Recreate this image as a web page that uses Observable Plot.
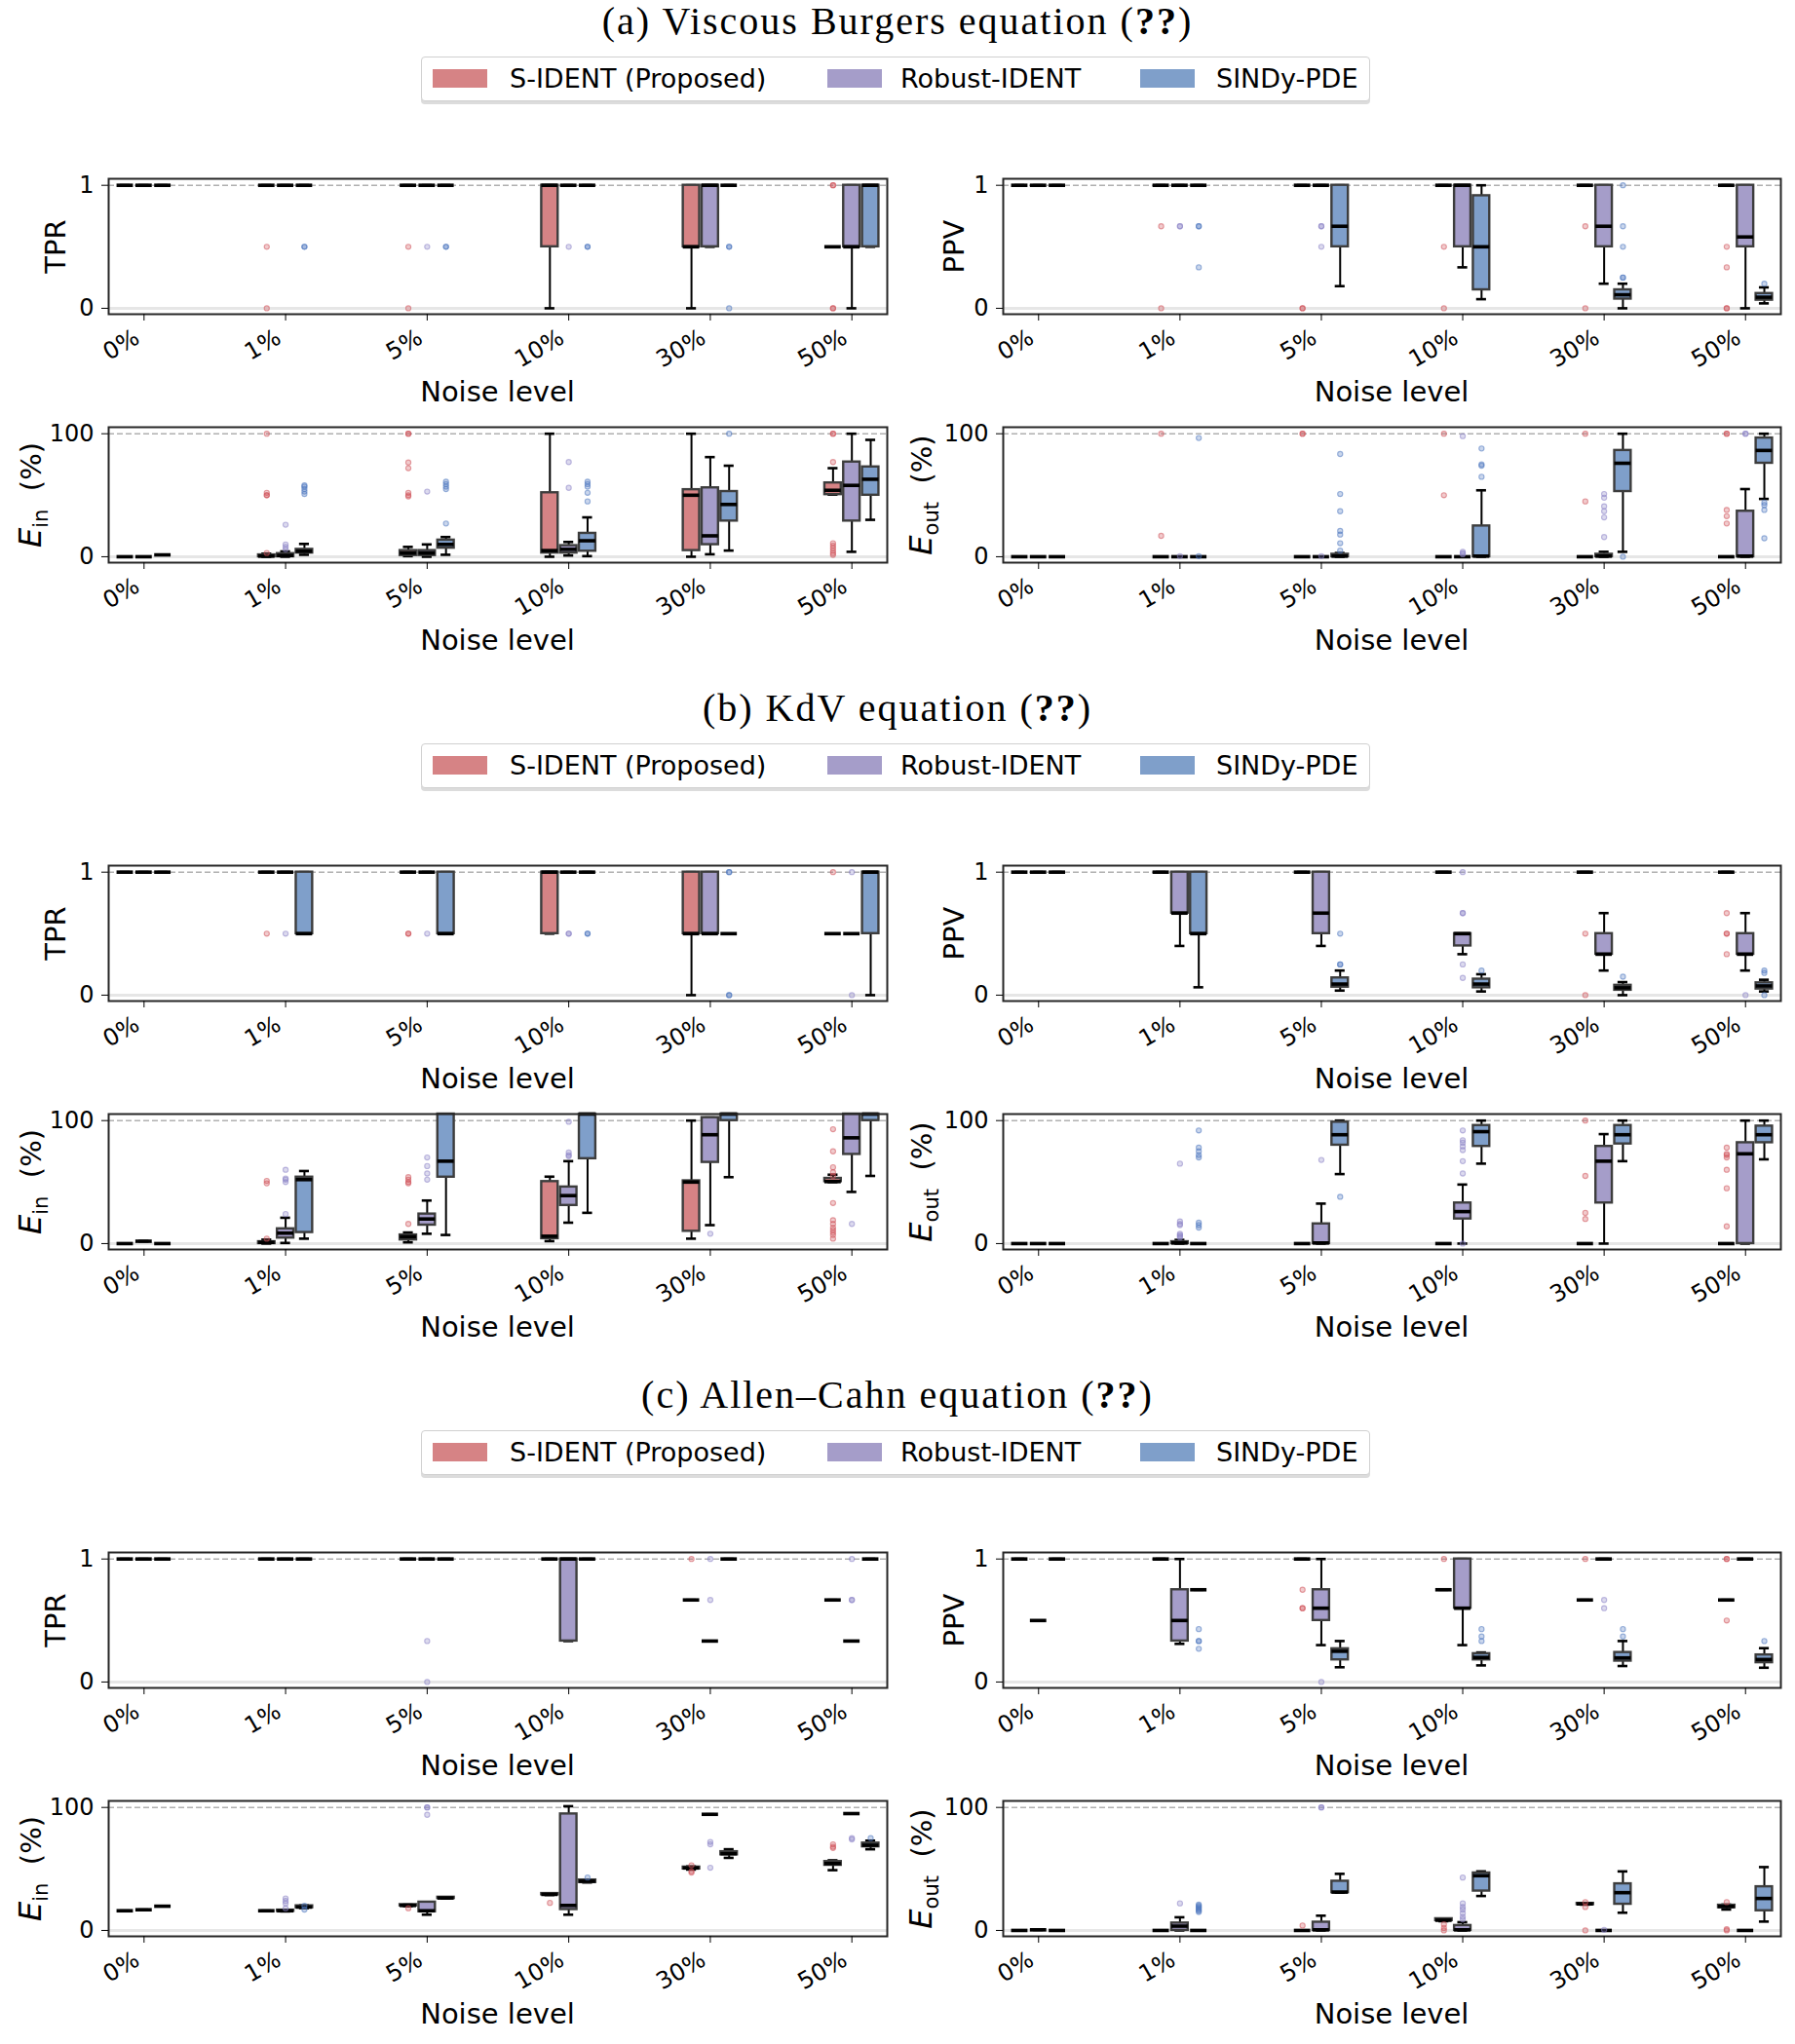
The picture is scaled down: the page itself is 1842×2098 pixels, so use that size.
<!DOCTYPE html>
<html>
<head>
<meta charset="utf-8">
<script src="https://cdn.jsdelivr.net/npm/d3@7"></script>
<script src="https://cdn.jsdelivr.net/npm/@observablehq/plot@0.6"></script>
<style>
  body { margin: 0; background: #fff; }
  #root { position: relative; width: 1842px; height: 2098px; overflow: hidden; font-family: "DejaVu Sans", sans-serif; color: #000; }
  .section { position: absolute; left: 0; width: 1842px; height: 705px; }
  .title { position: absolute; left: 0; top: 1px; width: 1842px; height: 42px; line-height: 42px; text-align: center;
           font-family: "Liberation Serif", serif; font-size: 40px; letter-spacing: 2px; white-space: nowrap; }
  .legend { position: absolute; left: 432px; top: 58px; width: 972px; height: 44px; border: 1px solid #d0d0d0;
            border-radius: 4px; box-shadow: 0 3px 0 #dcdcdc; background: #fff; }
  .sw { position: absolute; top: 12px; width: 56px; height: 19px; }
  .lt { position: absolute; top: 0; height: 44px; line-height: 44px; font-size: 27px; white-space: nowrap; }
  .panel { position: absolute; }
  .xlab { position: absolute; font-size: 29px; line-height: 29px; white-space: nowrap; transform: translate(-50%, -50%); }
  .ylab { position: absolute; font-size: 29px; line-height: 36px; white-space: nowrap; transform: translate(-50%, -50%) rotate(-90deg); }
  .ylab i { font-size: 32px; }
  .ylab sub { font-size: 21px; vertical-align: -7px; }
</style>
</head>
<body>
<div id="root"></div>
<script>
// ---- categories ----
const noiseLevels = ["0%", "1%", "5%", "10%", "30%", "50%"];
const methods = ["S-IDENT (Proposed)", "Robust-IDENT", "SINDy-PDE"];
const methodColors = ["#d68385", "#a59dc9", "#7f9fca"];
const outlierColors = ["#d0545b", "#8c83c6", "#4f78c0"];

// ---- box statistics: [lower whisker, Q1, median, Q3, upper whisker], noise-major, method-minor ----
// (a) Viscous Burgers
const burgersTPR = [
  [1,1,1,1,1],[1,1,1,1,1],[1,1,1,1,1],
  [1,1,1,1,1],[1,1,1,1,1],[1,1,1,1,1],
  [1,1,1,1,1],[1,1,1,1,1],[1,1,1,1,1],
  [0,0.5,1,1,1],[1,1,1,1,1],[1,1,1,1,1],
  [0,0.5,0.5,1,1],[0.5,0.5,1,1,1],[1,1,1,1,1],
  [0.5,0.5,0.5,0.5,0.5],[0,0.5,0.5,1,1],[0.5,0.5,1,1,1]
];
const burgersPPV = [
  [1,1,1,1,1],[1,1,1,1,1],[1,1,1,1,1],
  [1,1,1,1,1],[1,1,1,1,1],[1,1,1,1,1],
  [1,1,1,1,1],[1,1,1,1,1],[0.18,0.5,0.667,1,1],
  [1,1,1,1,1],[0.333,0.5,1,1,1],[0.074,0.15,0.5,0.915,1],
  [1,1,1,1,1],[0.2,0.5,0.667,1,1],[0,0.075,0.11,0.15,0.2],
  [1,1,1,1,1],[0,0.5,0.58,1,1],[0.04,0.066,0.09,0.12,0.17]
];
const burgersEin = [
  [0,0,0,0,0],[0,0,0,0,0],[1.5,1.5,1.5,1.5,1.5],
  [0,0,0.5,1.5,2.5],[0,0,1,2.5,4.3],[1.6,3,4.5,6,10.4],
  [0.5,1,3,5,8],[0,1,3,5,10],[1.6,7,10,13.5,16],
  [0,3,5,52,100],[1,3,6,9,12],[0.5,4.5,13,19,32],
  [0,5,50,54.5,100],[2,9.8,17,56,81],[5,29,42.5,53,74],
  [50.5,50.5,54,60,72],[4,29,58,77,100],[30,50,63,73,95]
];
const burgersEout = [
  [0,0,0,0,0],[0,0,0,0,0],[0,0,0,0,0],
  [0,0,0,0,0],[0,0,0,0,0],[0,0,0,0,0],
  [0,0,0,0,0],[0,0,0,0,0],[0,0,0.5,2,3],
  [0,0,0,0,0],[0,0,0,0,0],[0,0,0.5,25,54],
  [0,0,0,0,0],[0,0,0.5,2,4],[4,53,76,86.4,100],
  [0,0,0,0,0],[0,0,0.5,37,55],[47,76,86.4,96.5,100]
];
// (b) KdV
const kdvTPR = [
  [1,1,1,1,1],[1,1,1,1,1],[1,1,1,1,1],
  [1,1,1,1,1],[1,1,1,1,1],[0.5,0.5,0.5,1,1],
  [1,1,1,1,1],[1,1,1,1,1],[0.5,0.5,0.5,1,1],
  [0.5,0.5,1,1,1],[1,1,1,1,1],[1,1,1,1,1],
  [0,0.5,0.5,1,1],[0.5,0.5,0.5,1,1],[0.5,0.5,0.5,0.5,0.5],
  [0.5,0.5,0.5,0.5,0.5],[0.5,0.5,0.5,0.5,0.5],[0,0.5,1,1,1]
];
const kdvPPV = [
  [1,1,1,1,1],[1,1,1,1,1],[1,1,1,1,1],
  [1,1,1,1,1],[0.4,0.667,0.667,1,1],[0.064,0.5,0.5,1,1],
  [1,1,1,1,1],[0.4,0.5,0.667,1,1],[0.037,0.065,0.09,0.14,0.2],
  [1,1,1,1,1],[0.333,0.4,0.5,0.5,0.5],[0.03,0.06,0.09,0.13,0.17],
  [1,1,1,1,1],[0.2,0.333,0.333,0.5,0.667],[0,0.04,0.06,0.08,0.106],
  [1,1,1,1,1],[0.2,0.333,0.333,0.5,0.667],[0.03,0.05,0.075,0.1,0.125]
];
const kdvEin = [
  [0,0,0,0,0],[1.9,1.9,1.9,1.9,1.9],[0,0,0,0,0],
  [0,0,1,1.5,3.2],[0.5,4.5,8.5,12,21],[4,9,52,54,59],
  [1,3,5.6,7,9],[8,15,20,24,35],[7,54,67,120,150],
  [2,4,6,50.4,54.4],[17,31,39,46,67],[25,69,115,130,150],
  [4,10,50,51,100],[15,66,88.5,102.4,102.4],[54,100,108,115,130],
  [50,50.4,50.4,53,56],[42,72.5,86,110,130],[55,100,108,115,130]
];
const kdvEout = [
  [0,0,0,0,0],[0,0,0,0,0],[0,0,0,0,0],
  [0,0,0,0,0],[0,0,0.5,1.5,3],[0,0,0,0,0],
  [0,0,0,0,0],[0,0,0.5,16,32.5],[56.5,80,88.5,98.7,100],
  [0,0,0,0,0],[0,20,26,33,48],[65,79,91,96,100],
  [0,0,0,0,0],[0,33,67,79,89],[67,81,88.5,96,100],
  [0,0,0,0,0],[0,0,73,82,100],[68.5,82,88.5,95.5,100]
];
// (c) Allen–Cahn
const acTPR = [
  [1,1,1,1,1],[1,1,1,1,1],[1,1,1,1,1],
  [1,1,1,1,1],[1,1,1,1,1],[1,1,1,1,1],
  [1,1,1,1,1],[1,1,1,1,1],[1,1,1,1,1],
  [1,1,1,1,1],[0.333,0.333,1,1,1],[1,1,1,1,1],
  [0.667,0.667,0.667,0.667,0.667],[0.333,0.333,0.333,0.333,0.333],[1,1,1,1,1],
  [0.667,0.667,0.667,0.667,0.667],[0.333,0.333,0.333,0.333,0.333],[1,1,1,1,1]
];
const acPPV = [
  [1,1,1,1,1],[0.5,0.5,0.5,0.5,0.5],[1,1,1,1,1],
  [1,1,1,1,1],[0.31,0.333,0.5,0.75,1],[0.75,0.75,0.75,0.75,0.75],
  [1,1,1,1,1],[0.3,0.5,0.6,0.75,1],[0.12,0.18,0.25,0.27,0.333],
  [0.75,0.75,0.75,0.75,0.75],[0.3,0.6,0.6,1,1],[0.135,0.18,0.2,0.23,0.24],
  [0.667,0.667,0.667,0.667,0.667],[1,1,1,1,1],[0.13,0.17,0.196,0.24,0.333],
  [0.667,0.667,0.667,0.667,0.667],[1,1,1,1,1],[0.116,0.157,0.183,0.22,0.275]
];
const acEin = [
  [16,16,16,16,16],[16.8,16.8,16.8,16.8,16.8],[19.7,19.7,19.7,19.7,19.7],
  [16,16,16,16,16],[15.5,15.5,16,16.5,16.5],[18.2,18.5,19,20,20.3],
  [19.8,20,20.3,21,21],[12.8,15.2,16,23,23],[26,26,26.4,27,27],
  [28.8,29,29.3,30,30],[12.8,17,20.3,94.7,101],[39,39,40,41,41],
  [49.5,50,50.8,51.5,52],[94.4,94.4,94.4,94.4,94.4],[59,61.5,62.4,64,66],
  [49,53,54.4,56,57],[95,95,95,95,95],[66,68,69.3,71,73]
];
const acEout = [
  [0,0,0,0,0],[0.5,0.5,0.5,0.5,0.5],[0,0,0,0,0],
  [0,0,0,0,0],[0,0,3.5,6,10.7],[0,0,0,0,0],
  [0,0,0,0,0],[0,0,0.5,6.7,12],[30.7,30.7,31.2,40,46],
  [7.5,8,8.3,9.5,9.5],[0,0,0.5,4,6.7],[28,32,44.5,46.7,48],
  [21,21,21.6,22,22],[0,0,0,0,0],[14.4,21.3,30.7,37.9,48],
  [17,18.5,19.5,20.5,21],[0,0,0,0,0],[7.2,16,26,35.5,51.5]
];

// ---- outliers: [noise index, method index, value] (repeated entries are coinciding runs) ----
const burgersTPRout = [
  [1,0,0.5],[1,0,0],[1,2,0.5],[1,2,0.5],
  [2,0,0.5],[2,0,0],[2,1,0.5],[2,2,0.5],[2,2,0.5],
  [3,1,0.5],[3,2,0.5],[3,2,0.5],
  [4,2,0.5],[4,2,0.5],[4,2,0],
  [5,0,1],[5,0,1],[5,0,0],[5,0,0]
];
const burgersPPVout = [
  [1,0,0.667],[1,0,0],[1,1,0.667],[1,1,0.667],[1,2,0.667],[1,2,0.667],[1,2,0.333],
  [2,0,0],[2,0,0],[2,1,0.667],[2,1,0.667],[2,1,0.5],
  [3,0,0.5],[3,0,0],
  [4,0,0.667],[4,0,0],[4,2,0.25],[4,2,0.25],[4,2,0.667],[4,2,0.5],[4,2,1],
  [5,0,0.5],[5,0,0.333],[5,0,0],[5,0,0],[5,2,0.2]
];
const burgersEinOut = [
  [1,0,100],[1,0,52],[1,0,50],[1,0,50],[1,0,3],[1,1,26],[1,1,10],[1,1,8],[1,1,6],
  [1,2,51],[1,2,53],[1,2,55],[1,2,57],[1,2,58],
  [2,0,100],[2,0,100],[2,0,76.6],[2,0,72],[2,0,52],[2,0,50],[2,0,49],[2,1,53],
  [2,2,27],[2,2,55],[2,2,57],[2,2,59],[2,2,61],
  [3,1,77],[3,1,56],[3,2,45],[3,2,52],[3,2,57],[3,2,59],[3,2,61],
  [4,2,100],
  [5,0,100],[5,0,100],[5,0,77],[5,0,11],[5,0,9],[5,0,7],[5,0,5],[5,0,3],[5,0,1.5]
];
const burgersEoutOut = [
  [1,0,100],[1,0,17],[1,1,0.5],[1,2,96.5],[1,2,0.5],
  [2,0,100],[2,0,100],[2,1,0.5],[2,2,83.5],[2,2,51],[2,2,37],[2,2,21],[2,2,18],[2,2,11],[2,2,5],
  [3,0,100],[3,0,50],[3,1,98],[3,1,4],[3,1,3],[3,1,2],[3,2,88],[3,2,75],[3,2,74],[3,2,65],
  [4,0,100],[4,0,45],[4,1,51],[4,1,48],[4,1,41],[4,1,37],[4,1,32],[4,1,16],[4,2,0],
  [5,0,100],[5,0,100],[5,0,38],[5,0,33],[5,0,27],[5,1,100],[5,1,100],[5,2,44],[5,2,42],[5,2,38],[5,2,15]
];
const kdvTPRout = [
  [1,0,0.5],[1,1,0.5],
  [2,0,0.5],[2,0,0.5],[2,1,0.5],
  [3,1,0.5],[3,1,0.5],[3,2,0.5],[3,2,0.5],
  [4,2,1],[4,2,1],[4,2,0],[4,2,0],
  [5,0,1],[5,1,1],[5,1,0]
];
const kdvPPVout = [
  [2,2,0.25],[2,2,0.25],[2,2,0.5],
  [3,1,1],[3,1,0.667],[3,1,0.667],[3,1,0.25],[3,1,0.14],[3,2,0.2],
  [4,0,0.5],[4,0,0],[4,2,0.15],
  [5,0,0.667],[5,0,0.5],[5,0,0.5],[5,0,0.333],[5,1,0],[5,2,0.2],[5,2,0.18],[5,2,0]
];
const kdvEinOut = [
  [1,0,51],[1,0,49],[1,0,4],[1,1,24],[1,1,50],[1,1,52],[1,1,53],[1,1,60],
  [2,0,54],[2,0,52],[2,0,50],[2,0,49],[2,0,16],[2,1,52],[2,1,57],[2,1,63],[2,1,70],
  [3,1,99],[3,1,74],[3,1,72],[3,1,71],
  [4,1,8],
  [5,0,93],[5,0,75],[5,0,62],[5,0,58],[5,0,55],[5,0,33],[5,0,19],[5,0,16],[5,0,13],[5,0,11],
  [5,0,9],[5,0,7],[5,0,4],[5,1,16]
];
const kdvEoutOut = [
  [1,1,65],[1,1,18],[1,1,16],[1,1,15],[1,1,8],[1,1,7],[1,1,6],[1,1,5],
  [1,2,92],[1,2,78],[1,2,75],[1,2,72],[1,2,70],[1,2,17],[1,2,15],[1,2,13],
  [2,1,68],[2,2,38],
  [3,1,92],[3,1,84],[3,1,82],[3,1,79],[3,1,76],[3,1,67],[3,1,57],[3,1,0],
  [4,0,100],[4,0,55],[4,0,25],[4,0,20],
  [5,0,78],[5,0,73],[5,0,72],[5,0,70],[5,0,60],[5,0,45],[5,0,14]
];
const acTPRout = [
  [2,1,0.333],[2,1,0],
  [4,0,1],[4,1,1],[4,1,0.667],
  [5,1,1],[5,1,0.667],[5,1,0.667]
];
const acPPVout = [
  [1,2,0.43],[1,2,0.333],[1,2,0.333],[1,2,0.27],
  [2,0,0.75],[2,0,0.6],[2,0,0.6],[2,1,0],
  [3,0,1],[3,2,0.43],[3,2,0.37],[3,2,0.333],
  [4,0,1],[4,1,0.667],[4,1,0.6],[4,2,0.43],[4,2,0.37],
  [5,0,1],[5,0,1],[5,0,0.5],[5,2,0.333]
];
const acEinOut = [
  [1,1,26],[1,1,24],[1,1,22],[1,1,18],[1,2,20],[1,2,17],
  [2,0,18],[2,1,100],[2,1,100],[2,1,94],
  [3,0,22.4],[3,2,43],
  [4,0,53],[4,0,48],[4,0,47],[4,1,72],[4,1,70],[4,1,51],
  [5,0,70],[5,0,68],[5,0,67],[5,1,75],[5,1,74],[5,2,75]
];
const acEoutOut = [
  [1,1,22],[1,2,21],[1,2,20],[1,2,19],[1,2,18],[1,2,17],[1,2,16],[1,2,15],
  [2,0,4],[2,1,100],[2,1,100],
  [3,0,5],[3,0,2],[3,0,0],[3,1,43],[3,1,22],[3,1,19],[3,1,17],[3,1,14],[3,1,11],[3,1,9],
  [4,0,23],[4,0,19],[4,0,0],[4,1,0.5],
  [5,0,23],[5,0,1],[5,0,0]
];

const sections = [
  {title: "(a) Viscous Burgers equation", panels: [
    [burgersTPR, burgersTPRout, "TPR"], [burgersPPV, burgersPPVout, "PPV"],
    [burgersEin, burgersEinOut, "Ein"], [burgersEout, burgersEoutOut, "Eout"]]},
  {title: "(b) KdV equation", panels: [
    [kdvTPR, kdvTPRout, "TPR"], [kdvPPV, kdvPPVout, "PPV"],
    [kdvEin, kdvEinOut, "Ein"], [kdvEout, kdvEoutOut, "Eout"]]},
  {title: "(c) Allen\u2013Cahn equation", panels: [
    [acTPR, acTPRout, "TPR"], [acPPV, acPPVout, "PPV"],
    [acEin, acEinOut, "Ein"], [acEout, acEoutOut, "Eout"]]}
];

// ---- layout ----
const groupOffset = [-0.133, 0, 0.133]; // dodge of the three methods around each noise level
const boxHalf = 0.058, capHalf = 0.035;
const frameH = 139, mTop = 10, mBottom = 100;
const panelLeft = [0, 918];
const panelWidth = [920, 924];
const panelMarginRight = [10, 15];
const panelTop = [173, 428];
const noiseTicks = [0, 1, 2, 3, 4, 5];

function boxPanel(stats, outs, metric, col) {
  const pct = metric === "Ein" || metric === "Eout";
  const full = pct ? 100 : 1;
  const rows = stats.map((s, k) => ({
    pos: Math.floor(k / 3) + groupOffset[k % 3], method: k % 3,
    lo: s[0], q1: s[1], med: s[2], q3: s[3], hi: s[4]
  }));
  const pts = outs.map(([n, m, v]) => ({pos: n + groupOffset[m], method: m, v}));
  return Plot.plot({
    width: panelWidth[col],
    height: mTop + frameH + mBottom,
    marginTop: mTop, marginBottom: mBottom, marginLeft: 111, marginRight: panelMarginRight[col],
    style: {fontFamily: "DejaVu Sans, sans-serif", fontSize: "24px", color: "#000", background: "transparent", overflow: "visible"},
    x: {type: "linear", domain: [-0.25, 5.25], label: null},
    y: {domain: pct ? [-4.8, 105.3] : [-0.048, 1.053], label: null, clamp: true},
    marks: [
      Plot.ruleY([0], {stroke: "#e6e6e6", strokeWidth: 3}),
      Plot.ruleY([full], {stroke: "#b0b0b0", strokeWidth: 1.6, strokeDasharray: "6,3"}),
      Plot.ruleX(rows, {x: "pos", y1: "lo", y2: "q1", stroke: "#000", strokeWidth: 2}),
      Plot.ruleX(rows, {x: "pos", y1: "q3", y2: "hi", stroke: "#000", strokeWidth: 2}),
      Plot.ruleY(rows, {y: "lo", x1: d => d.pos - capHalf, x2: d => d.pos + capHalf, stroke: "#000", strokeWidth: 2.6}),
      Plot.ruleY(rows, {y: "hi", x1: d => d.pos - capHalf, x2: d => d.pos + capHalf, stroke: "#000", strokeWidth: 2.6}),
      Plot.rect(rows, {x1: d => d.pos - boxHalf, x2: d => d.pos + boxHalf, y1: "q1", y2: "q3",
        fill: d => methodColors[d.method], stroke: "#3d3d3d", strokeWidth: 2.4}),
      Plot.ruleY(rows, {y: "med", x1: d => d.pos - boxHalf, x2: d => d.pos + boxHalf, stroke: "#000", strokeWidth: 3.6}),
      Plot.dot(pts, {x: "pos", y: "v", r: 2.6, fill: d => outlierColors[d.method], stroke: d => outlierColors[d.method],
        fillOpacity: 0.3, strokeOpacity: 0.55, strokeWidth: 1.1}),
      Plot.frame({stroke: "#262626", strokeWidth: 2}),
      // x tick marks, then the rotated noise-level labels
      Plot.axisX(noiseTicks, {tickSize: 7, tickFormat: () => "", label: null}),
      Plot.axisX(noiseTicks, {tickSize: 0, tickPadding: 5, tickRotate: -30, tickFormat: i => noiseLevels[i],
        label: null, dx: -7, dy: 17}),
      Plot.axisY([0, full], {tickSize: 7, tickPadding: 8, tickFormat: d => String(d), label: null})
    ]
  });
}

function yLabelHTML(metric) {
  if (metric === "Ein") return '<i>E</i><sub>in</sub>&nbsp;&nbsp;(%)';
  if (metric === "Eout") return '<i>E</i><sub>out</sub>&nbsp;&nbsp;(%)';
  return metric;
}
const yLabelX = {TPR: 57, PPV: 61, Ein: 36, Eout: 32};

const root = document.getElementById("root");
sections.forEach((sec, si) => {
  const s = document.createElement("div");
  s.className = "section";
  s.style.top = (si * 705) + "px";
  root.appendChild(s);

  const t = document.createElement("div");
  t.className = "title";
  t.innerHTML = sec.title + " (<b>??</b>)";
  s.appendChild(t);

  const lg = document.createElement("div");
  lg.className = "legend";
  const swX = [11, 416, 737], txX = [90, 491, 815];
  methods.forEach((m, i) => {
    const sw = document.createElement("div");
    sw.className = "sw"; sw.style.left = swX[i] + "px"; sw.style.background = methodColors[i];
    lg.appendChild(sw);
    const lt = document.createElement("div");
    lt.className = "lt"; lt.style.left = txX[i] + "px"; lt.textContent = m;
    lg.appendChild(lt);
  });
  s.appendChild(lg);

  sec.panels.forEach(([stats, outs, metric], pi) => {
    const col = pi % 2, row = Math.floor(pi / 2);
    const p = document.createElement("div");
    p.className = "panel";
    p.style.left = panelLeft[col] + "px";
    p.style.top = panelTop[row] + "px";
    p.style.width = panelWidth[col] + "px";
    p.style.height = (mTop + frameH + mBottom) + "px";
    p.appendChild(boxPanel(stats, outs, metric, col));

    const frameL = 111, frameR = panelWidth[col] - panelMarginRight[col];
    const xl = document.createElement("div");
    xl.className = "xlab";
    xl.style.left = ((frameL + frameR) / 2) + "px";
    xl.style.top = (mTop + frameH + 80) + "px";
    xl.textContent = "Noise level";
    p.appendChild(xl);

    const yl = document.createElement("div");
    yl.className = "ylab";
    yl.style.left = yLabelX[metric] + "px";
    yl.style.top = (mTop + frameH / 2) + "px";
    yl.innerHTML = yLabelHTML(metric);
    p.appendChild(yl);

    s.appendChild(p);
  });
});
</script>
</body>
</html>
